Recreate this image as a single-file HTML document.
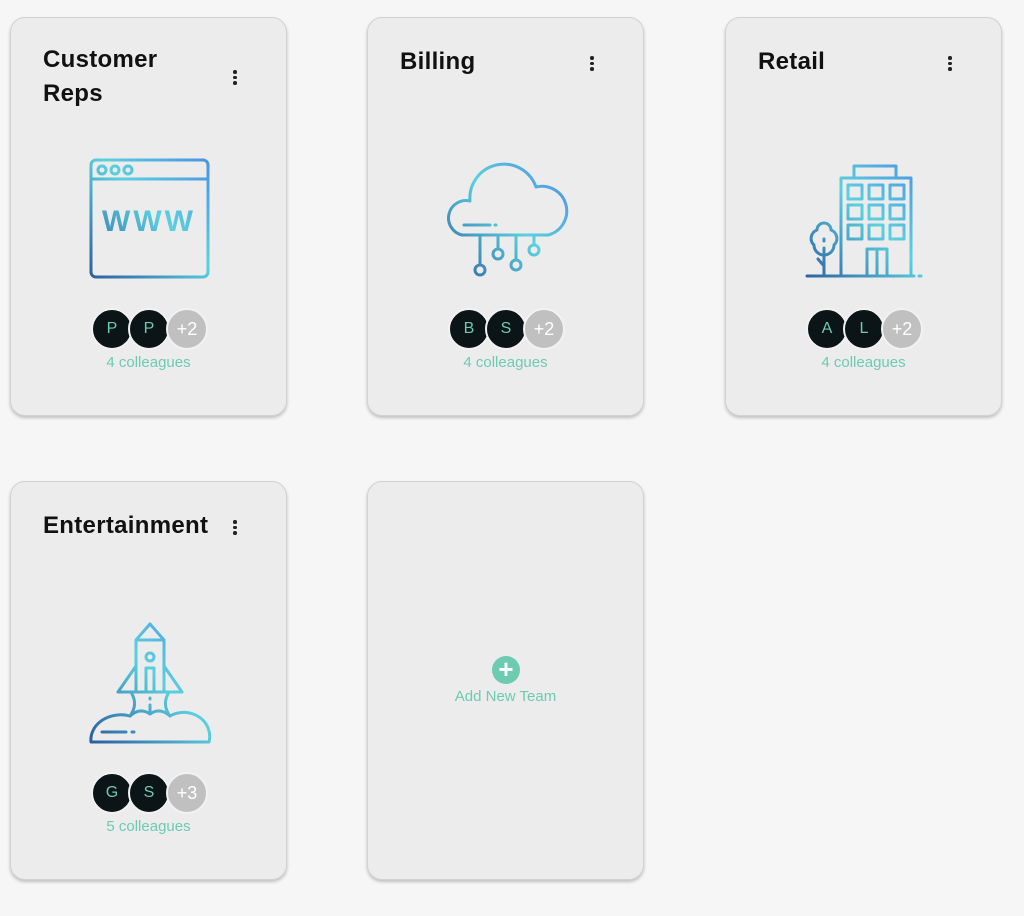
<!DOCTYPE html>
<html><head><meta charset="utf-8"><style>
body{margin:0;width:1024px;height:916px;background:#f6f6f6;font-family:"Liberation Sans",Arial,sans-serif;position:relative;overflow:hidden}
.card{position:absolute;width:275px;height:397px;background:#ececec;border:1px solid #d2d2d2;border-radius:15px;box-shadow:0 2px 3px rgba(0,0,0,.22)}
.title{position:absolute;left:32px;font-size:24px;font-weight:bold;color:#111;line-height:34px;letter-spacing:.3px}
.keb{position:absolute;left:222px;width:4px}
.keb i{display:block;width:3.5px;height:3.5px;background:#222;border-radius:50%;margin-bottom:2px}
.av{position:absolute;top:290px;left:0;width:100%;height:42px}
.c{position:absolute;width:38px;height:38px;border-radius:50%;border:2px solid #f2f2f2;background:#0b1416;color:#6ccbb0;font-size:16px;text-align:center;line-height:38px}
.c.g{background:#c0c0c0;color:#fff;font-size:18px}
.col{position:absolute;top:336px;left:0;width:100%;text-align:center;color:#6ccbb0;font-size:15px}
svg{position:absolute}
</style></head><body>

<div class="card" style="left:10px;top:17px">
 <div class="title" style="top:25px">Customer<br>Reps</div>
 <div class="keb" style="top:52px"><i></i><i></i><i></i></div>
 <svg style="left:77px;top:139px" width="124" height="124" viewBox="0 0 124 124" fill="none" stroke="url(#g1)" stroke-width="3" stroke-linecap="round" stroke-linejoin="round">
  <defs><linearGradient id="g1" gradientUnits="userSpaceOnUse" x1="0" y1="124" x2="124" y2="0"><stop offset="0" stop-color="#2a5a9e"/><stop offset=".55" stop-color="#5bd0de"/><stop offset="1" stop-color="#4a8fe4"/></linearGradient></defs>
  <rect x="3" y="3" width="117" height="117" rx="5"/><line x1="3" y1="22" x2="120" y2="22"/>
  <circle cx="14" cy="13" r="4"/><circle cx="27" cy="13" r="4"/><circle cx="40" cy="13" r="4"/>
  <text x="61" y="74" text-anchor="middle" font-family="Liberation Sans" font-weight="bold" font-size="30" fill="url(#g1)" stroke="none" letter-spacing="3">WWW</text>
 </svg>
 <div class="av"><div class="c" style="left:80px">P</div><div class="c" style="left:117px">P</div><div class="c g" style="left:155px">+2</div></div>
 <div class="col">4 colleagues</div>
</div>

<div class="card" style="left:367px;top:17px">
 <div class="title" style="top:27px">Billing</div>
 <div class="keb" style="top:38px"><i></i><i></i><i></i></div>
 <svg style="left:72px;top:137px" width="132" height="130" viewBox="0 0 132 130" fill="none" stroke="url(#g2)" stroke-width="3" stroke-linecap="round" stroke-linejoin="round">
  <defs><linearGradient id="g2" gradientUnits="userSpaceOnUse" x1="0" y1="125" x2="125" y2="10"><stop offset="0" stop-color="#2a5a9e"/><stop offset=".55" stop-color="#5bd0de"/><stop offset="1" stop-color="#4a8fe4"/></linearGradient></defs>
  <path d="M22 80 A17 17 0 0 1 30 46 A34 34 0 0 1 96 32 A24 24 0 0 1 108 80 Z"/>
  <line x1="24" y1="70" x2="50" y2="70"/><line x1="55" y1="70" x2="56" y2="70"/>
  <line x1="40" y1="80" x2="40" y2="110"/><circle cx="40" cy="115" r="5"/>
  <line x1="58" y1="80" x2="58" y2="94"/><circle cx="58" cy="99" r="5"/>
  <line x1="76" y1="80" x2="76" y2="105"/><circle cx="76" cy="110" r="5"/>
  <line x1="94" y1="80" x2="94" y2="90"/><circle cx="94" cy="95" r="5"/>
 </svg>
 <div class="av"><div class="c" style="left:80px">B</div><div class="c" style="left:117px">S</div><div class="c g" style="left:155px">+2</div></div>
 <div class="col">4 colleagues</div>
</div>

<div class="card" style="left:725px;top:17px">
 <div class="title" style="top:27px">Retail</div>
 <div class="keb" style="top:38px"><i></i><i></i><i></i></div>
 <svg style="left:78px;top:145px" width="124" height="120" viewBox="0 0 124 120" fill="none" stroke="url(#g3)" stroke-width="3" stroke-linecap="round" stroke-linejoin="round">
  <defs><linearGradient id="g3" gradientUnits="userSpaceOnUse" x1="0" y1="120" x2="120" y2="0"><stop offset="0" stop-color="#2a5a9e"/><stop offset=".55" stop-color="#5bd0de"/><stop offset="1" stop-color="#4a8fe4"/></linearGradient></defs>
  <rect x="50" y="3" width="42" height="12"/><rect x="37" y="15" width="70" height="98"/>
  <g><rect x="44" y="22" width="14" height="14"/><rect x="65" y="22" width="14" height="14"/><rect x="86" y="22" width="14" height="14"/>
  <rect x="44" y="42" width="14" height="14"/><rect x="65" y="42" width="14" height="14"/><rect x="86" y="42" width="14" height="14"/>
  <rect x="44" y="62" width="14" height="14"/><rect x="65" y="62" width="14" height="14"/><rect x="86" y="62" width="14" height="14"/></g>
  <rect x="63" y="86" width="20" height="27"/><line x1="73" y1="86" x2="73" y2="113"/>
  <path d="M20 113 V85 M20 103 L14 96"/><path d="M20 60 A7 7 0 0 0 13 67 A9 9 0 0 0 10 82 A10 10 0 0 0 30 82 A9 9 0 0 0 27 67 A7 7 0 0 0 20 60Z"/>
  <line x1="20" y1="76" x2="20" y2="78"/>
  <line x1="3" y1="113" x2="110" y2="113"/><line x1="115" y1="113" x2="117" y2="113"/>
 </svg>
 <div class="av"><div class="c" style="left:80px">A</div><div class="c" style="left:117px">L</div><div class="c g" style="left:155px">+2</div></div>
 <div class="col">4 colleagues</div>
</div>

<div class="card" style="left:10px;top:481px">
 <div class="title" style="top:27px">Entertainment</div>
 <div class="keb" style="top:38px"><i></i><i></i><i></i></div>
 <svg style="left:77px;top:138px" width="124" height="126" viewBox="0 0 124 126" fill="none" stroke="url(#g4)" stroke-width="3" stroke-linecap="round" stroke-linejoin="round">
  <defs><linearGradient id="g4" gradientUnits="userSpaceOnUse" x1="0" y1="124" x2="124" y2="0"><stop offset="0" stop-color="#2a5a9e"/><stop offset=".55" stop-color="#5bd0de"/><stop offset="1" stop-color="#4a8fe4"/></linearGradient></defs>
  <path d="M62 4 L48 20 V72 H76 V20 Z M48 20 H76"/><circle cx="62" cy="37" r="4"/><rect x="58" y="48" width="8" height="24"/>
  <path d="M48 46 L30 72 H48 M76 46 L94 72 H76"/>
  <line x1="62" y1="78" x2="62" y2="79"/><line x1="62" y1="85" x2="62" y2="92"/>
  <path d="M44 74 Q50 85 42 96 M80 74 Q74 85 82 96"/>
  <path d="M3 122 A30 25 0 0 1 42 96 Q52 87 62 94 Q72 87 82 96 A26 24 0 0 1 121 122 Z"/>
  <line x1="14" y1="112" x2="38" y2="112"/><line x1="44" y1="112" x2="46" y2="112"/>
 </svg>
 <div class="av"><div class="c" style="left:80px">G</div><div class="c" style="left:117px">S</div><div class="c g" style="left:155px">+3</div></div>
 <div class="col">5 colleagues</div>
</div>

<div class="card" style="left:367px;top:481px">
 <div style="position:absolute;left:124px;top:174px;width:28px;height:28px;border-radius:50%;background:#6ccbb0;color:#fff;font-size:26px;font-weight:bold;line-height:27px;text-align:center">+</div>
 <div style="position:absolute;top:206px;left:0;width:100%;text-align:center;color:#6ccbb0;font-size:15px">Add New Team</div>
</div>
</body></html>
